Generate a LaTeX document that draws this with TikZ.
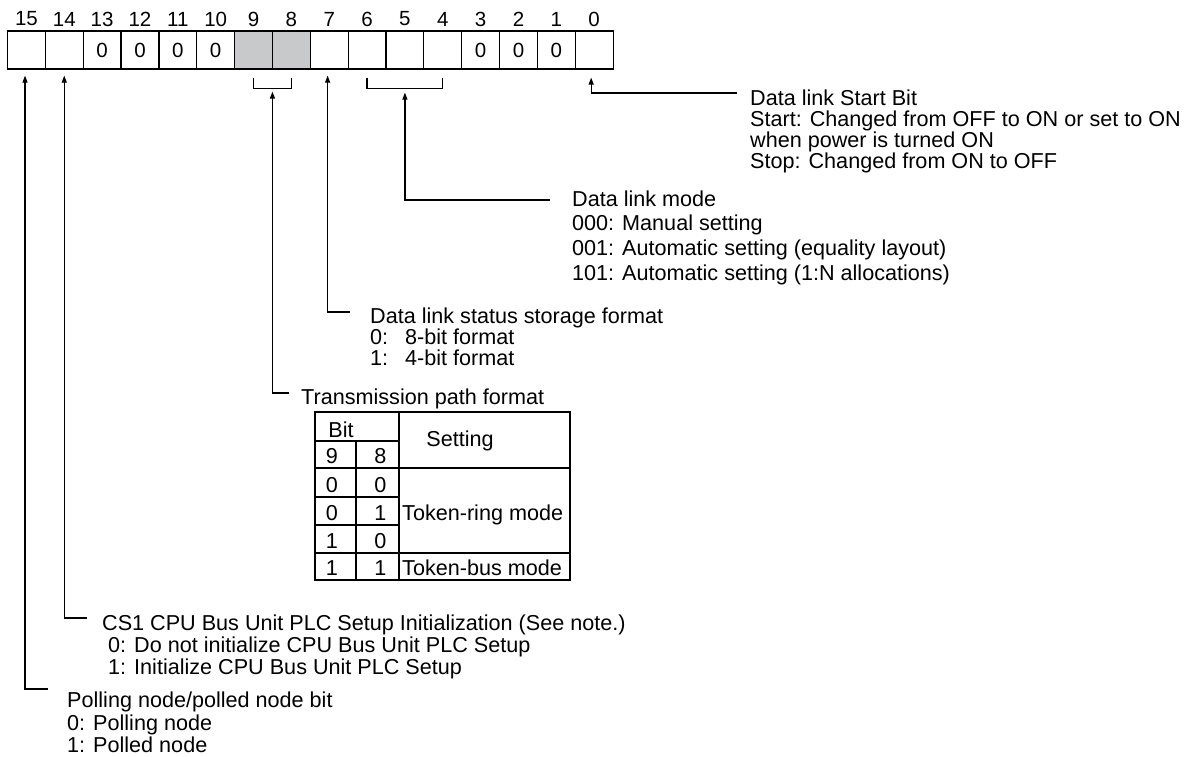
\documentclass[tikz,border=0pt]{standalone}
\usepackage{fontspec}
\setmainfont{Liberation Sans}
\usetikzlibrary{arrows.meta,calc}
\definecolor{cellgray}{HTML}{C8C9CB}
\begin{document}
\begin{tikzpicture}[x=1pt,y=-1pt,
  cell/.style={draw, line width=1.2pt, minimum width=37.85pt, minimum height=38pt, inner sep=0pt, font=\fontsize{20.5}{20.5}\selectfont},
  bitnum/.style={inner sep=0pt, font=\fontsize{20.5}{20.5}\selectfont},
  txt/.style={anchor=base west, inner sep=0pt, font=\fontsize{21.6}{21.6}\selectfont},
  tabtxt/.style={anchor=base, inner sep=0pt, font=\fontsize{21.6}{21.6}\selectfont},
  wire/.style={line width=1.2pt},
  arr/.style={wire, {Triangle[length=7pt,width=5pt]}-},
]
\useasboundingbox (0,0) rectangle (1189,756);
% register cells
\foreach \b in {15,14,7,6,5,4,0}{
  \pgfmathsetmacro\cx{7.5+(15-\b)*37.85+18.925}
  \node[cell] (c\b) at (\cx,50) {};
}
\foreach \b in {13,12,11,10,3,2,1}{
  \pgfmathsetmacro\cx{7.5+(15-\b)*37.85+18.925}
  \node[cell] (c\b) at (\cx,50) {0};
}
\foreach \b in {9,8}{
  \pgfmathsetmacro\cx{7.5+(15-\b)*37.85+18.925}
  \node[cell, fill=cellgray] (c\b) at (\cx,50) {};
}
\foreach \b in {0,...,15}{
  \pgfmathsetmacro\cx{7.5+(15-\b)*37.85+18.925}
  \node[bitnum] (n\b) at (\cx,19) {\b};
}
% brackets
\draw[wire] ([yshift=-8pt]c9.south) -- ([yshift=-19pt]c9.south) -- ([yshift=-19pt]c8.south) -- ([yshift=-8pt]c8.south);
\draw[wire] ([yshift=-8pt]c6.south) -- ([yshift=-19pt]c6.south) -- ([yshift=-19pt]c4.south) -- ([yshift=-8pt]c4.south);
\coordinate (b98) at ($(c9.south)!0.5!(c8.south)+(0,22)$);
\coordinate (b64) at ($(c5.south)+(0,23)$);
% line ends
\coordinate (e0) at (737,93);
\coordinate (e64) at (550,200);
\coordinate (e7) at (350,312);
\coordinate (e98) at (289,393);
\coordinate (e14) at (87,618);
\coordinate (e15) at (48,689);
% connectors
\draw[arr] ([xshift=-3pt,yshift=-8pt]c0.south) |- (e0);
\draw[arr] (b64) |- (e64);
\draw[arr] ([xshift=-1.6pt,yshift=-6pt]c7.south) |- (e7);
\draw[arr] (b98) |- (e98);
\draw[arr] ([yshift=-6pt]c14.south) |- (e14);
\draw[arr] ([xshift=-1.4pt,yshift=-6pt]c15.south) |- (e15);
% bit 0 text
\node[txt] (l0a) at (750,105.5) {Data link Start Bit};
\node[txt] (l0b) at (750,126.5) {Start: Changed from OFF to ON or set to ON};
\node[txt] (l0c) at (750,147.5) {when power is turned ON};
\node[txt] (l0d) at (750,168.5) {Stop: Changed from ON to OFF};
% data link mode
\node[txt] (lma) at (572,206) {Data link mode};
\node[txt] (lmb) at (572,230) {000: Manual setting};
\node[txt] (lmc) at (572,255) {001: Automatic setting (equality layout)};
\node[txt] (lmd) at (572,280) {101: Automatic setting (1:N allocations)};
% status storage
\node[txt] (lsa) at (370,323) {Data link status storage format};
\node[txt] (lsb) at (370,344) {\makebox[35pt][l]{0:}8-bit format};
\node[txt] (lsc) at (370,365) {\makebox[35pt][l]{1:}4-bit format};
% transmission path
\node[txt] (lta) at (301,404) {Transmission path format};
\draw[wire] (315,412) rectangle (570,580);
\draw[wire] (356,441) -- (356,580);
\draw[wire] (399,412) -- (399,580);
\draw[wire] (315,441) -- (399,441);
\draw[wire] (315,468) -- (570,468);
\draw[wire] (315,497) -- (399,497);
\draw[wire] (315,525) -- (399,525);
\draw[wire] (315,553) -- (570,553);
\node[tabtxt] (tbit) at (341,437) {Bit};
\node[tabtxt] (tset) at (460,446) {Setting};
\node[tabtxt] (t9) at (332,463) {9};
\node[tabtxt] (t8) at (380.5,463) {8};
\node[tabtxt] (r1a) at (332,492) {0};
\node[tabtxt] (r1b) at (380.5,492) {0};
\node[tabtxt] (r2a) at (332,520) {0};
\node[tabtxt] (r2b) at (380.5,520) {1};
\node[tabtxt] (r3a) at (332,548) {1};
\node[tabtxt] (r3b) at (380.5,548) {0};
\node[tabtxt] (r4a) at (332,575) {1};
\node[tabtxt] (r4b) at (380.5,575) {1};
\node[txt] (tring) at (402,520) {Token-ring mode};
\node[txt] (tbus) at (402,575) {Token-bus mode};
% CS1
\node[txt] (lca) at (102,630) {CS1 CPU Bus Unit PLC Setup Initialization (See note.)};
\node[txt] (lcb) at (108,652) {0: Do not initialize CPU Bus Unit PLC Setup};
\node[txt] (lcc) at (108,674) {1: Initialize CPU Bus Unit PLC Setup};
% polling
\node[txt] (lpa) at (67,707) {Polling node/polled node bit};
\node[txt] (lpb) at (67,730) {0: Polling node};
\node[txt] (lpc) at (67,752) {1: Polled node};
\end{tikzpicture}
\end{document}
